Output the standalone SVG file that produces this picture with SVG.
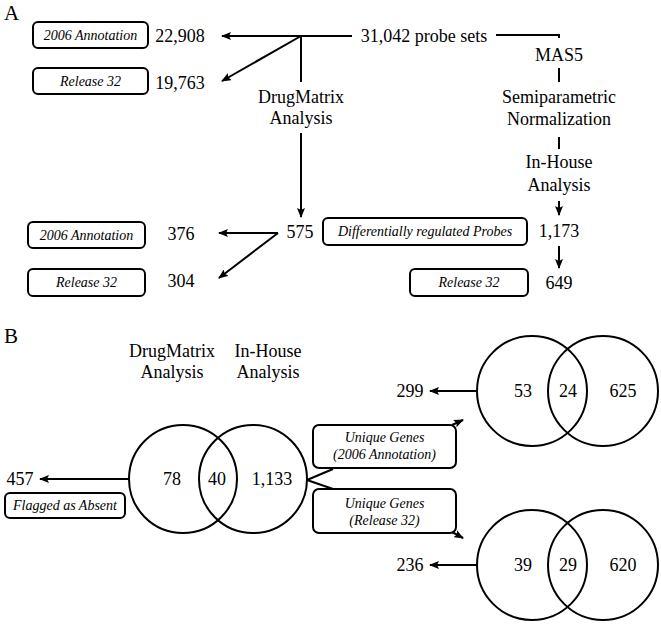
<svg xmlns="http://www.w3.org/2000/svg" width="661" height="628" viewBox="0 0 661 628" font-family="'Liberation Serif', 'DejaVu Serif', serif">
<defs>
<marker id="ah" viewBox="0 0 10 8" refX="9" refY="4" markerWidth="10" markerHeight="8" markerUnits="userSpaceOnUse" orient="auto">
<path d="M0,0 L10,4 L0,8 L2,4 Z" fill="#000"/>
</marker>
</defs>
<style>
text{font-family:'Liberation Serif','DejaVu Serif',serif;fill:#000}
.t{font-size:18px;text-anchor:middle}
.lab{font-size:21px}
.bx{fill:#fff;stroke:#000;stroke-width:2}
.bt{font-size:14px;font-style:italic;text-anchor:middle}
.ln{fill:none;stroke:#000;stroke-width:2}
.c{fill:none;stroke:#000;stroke-width:2}
</style>
<rect width="661" height="628" fill="#fff"/>
<text class="lab" x="4" y="20">A</text>
<text class="lab" x="4" y="343">B</text>

<g id="connectors">
<path class="ln" d="M352,36 L301,36 L222,36" marker-end="url(#ah)"/>
<path class="ln" d="M301,36 L222,81" marker-end="url(#ah)"/>
<path class="ln" d="M301,36 L301,82"/>
<path class="ln" d="M496,35 L559,35 L559,38"/>
<path class="ln" d="M559,68 L559,82"/>
<path class="ln" d="M559,137 L559,149"/>
<path class="ln" d="M559,201 L559,215" marker-end="url(#ah)"/>
<path class="ln" d="M559,246 L559,268" marker-end="url(#ah)"/>
<path class="ln" d="M301,133 L301,217" marker-end="url(#ah)"/>
<path class="ln" d="M278,233 L219,233" marker-end="url(#ah)"/>
<path class="ln" d="M278,233 L219,278" marker-end="url(#ah)"/>
<path class="ln" d="M129,479 L40,479" marker-end="url(#ah)"/>
<path class="ln" d="M307,480 L333,469"/>
<path class="ln" d="M307,480 L333,489"/>
<path class="ln" d="M452,425 L463,420" marker-end="url(#ah)"/>
<path class="ln" d="M452,532 L463,538" marker-end="url(#ah)"/>
<path class="ln" d="M477,391 L430,391" marker-end="url(#ah)"/>
<path class="ln" d="M477,565 L430,565" marker-end="url(#ah)"/>
</g>

<g id="probe-sets"><text class="t" x="424" y="42">31,042 probe sets</text></g>
<g id="top-annot-2006"><rect class="bx" x="33" y="22" width="115" height="26" rx="5"/><text class="bt" x="90.5" y="40">2006 Annotation</text></g>
<g id="top-22908"><text class="t" x="180" y="42">22,908</text></g>
<g id="top-release32"><rect class="bx" x="33" y="68" width="115" height="26" rx="5"/><text class="bt" x="90.5" y="86">Release 32</text></g>
<g id="top-19763"><text class="t" x="180" y="89">19,763</text></g>
<g id="drugmatrix"><text class="t" x="301" y="103">DrugMatrix</text><text class="t" x="301" y="124">Analysis</text></g>
<g id="mas5"><text class="t" x="559" y="61">MAS5</text></g>
<g id="normalization"><text class="t" x="559" y="103">Semiparametric</text><text class="t" x="559" y="125">Normalization</text></g>
<g id="inhouse"><text class="t" x="559" y="168">In-House</text><text class="t" x="559" y="191">Analysis</text></g>
<g id="n575"><text class="t" x="300" y="238">575</text></g>
<g id="diff-probes"><rect class="bx" x="323" y="218" width="204" height="27" rx="5"/><text class="bt" x="425" y="236">Differentially regulated Probes</text></g>
<g id="n1173"><text class="t" x="559" y="237">1,173</text></g>
<g id="mid-annot-2006"><rect class="bx" x="28" y="222" width="117" height="26" rx="5"/><text class="bt" x="86.5" y="240">2006 Annotation</text></g>
<g id="n376"><text class="t" x="181" y="240">376</text></g>
<g id="mid-release32"><rect class="bx" x="28" y="269" width="117" height="27" rx="5"/><text class="bt" x="86.5" y="287">Release 32</text></g>
<g id="n304"><text class="t" x="181" y="287">304</text></g>
<g id="right-release32"><rect class="bx" x="410" y="269" width="118" height="27" rx="5"/><text class="bt" x="469" y="287">Release 32</text></g>
<g id="n649"><text class="t" x="559" y="289">649</text></g>

<g id="b-drugmatrix"><text class="t" x="172" y="357">DrugMatrix</text><text class="t" x="172" y="378">Analysis</text></g>
<g id="b-inhouse"><text class="t" x="268" y="357">In-House</text><text class="t" x="268" y="378">Analysis</text></g>

<g id="venn-main">
<circle class="c" cx="183" cy="479" r="54"/>
<circle class="c" cx="253" cy="479" r="54"/>
<text class="t" x="172" y="485">78</text>
<text class="t" x="217" y="485">40</text>
<text class="t" x="272" y="485">1,133</text>
</g>
<g id="n457"><text class="t" x="20" y="485">457</text></g>
<g id="flagged"><rect class="bx" x="5" y="493" width="120" height="25" rx="5"/><text class="bt" x="65" y="510">Flagged as Absent</text></g>
<g id="unique-2006"><rect class="bx" x="313" y="425" width="143" height="43" rx="6"/><text class="bt" x="384.5" y="442">Unique Genes</text><text class="bt" x="384.5" y="459">(2006 Annotation)</text></g>
<g id="unique-r32"><rect class="bx" x="313" y="489" width="143" height="44" rx="6"/><text class="bt" x="384.5" y="508">Unique Genes</text><text class="bt" x="384.5" y="525">(Release 32)</text></g>

<g id="venn-2006">
<circle class="c" cx="532" cy="391" r="55"/>
<circle class="c" cx="603" cy="391" r="55"/>
<text class="t" x="523" y="397">53</text>
<text class="t" x="568" y="397">24</text>
<text class="t" x="623" y="397">625</text>
</g>
<g id="n299"><text class="t" x="410" y="397">299</text></g>
<g id="venn-r32">
<circle class="c" cx="532" cy="565" r="55"/>
<circle class="c" cx="603" cy="565" r="55"/>
<text class="t" x="523" y="571">39</text>
<text class="t" x="568" y="571">29</text>
<text class="t" x="623" y="571">620</text>
</g>
<g id="n236"><text class="t" x="410" y="571">236</text></g>
</svg>
